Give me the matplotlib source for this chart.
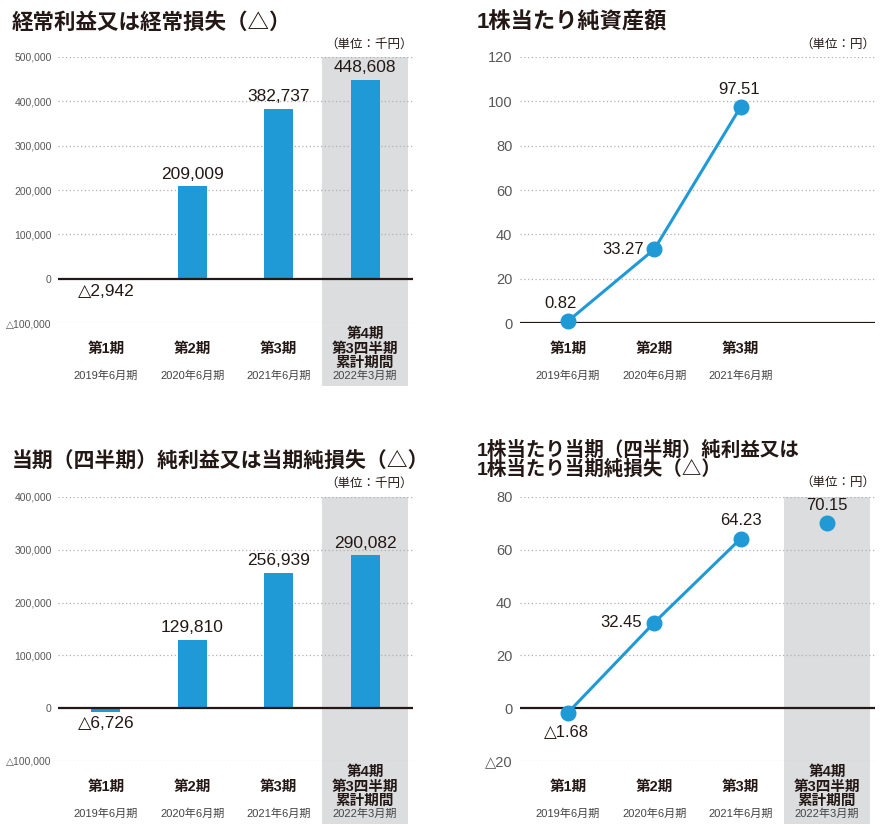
import matplotlib.pyplot as plt

plt.rcParams['font.family'] = ['Liberation Sans', 'DejaVu Sans', 'Noto Sans CJK JP']

# data
cat_names = ['第1期', '第2期', '第3期', '第4期\n第3四半期\n累計期間']
periods = ['2019年6月期', '2020年6月期', '2021年6月期', '2022年3月期']

ordinary_profit = [-2942, 209009, 382737, 448608]      # 千円
net_income = [-6726, 129810, 256939, 290082]           # 千円
bps = [0.82, 33.27, 97.51]                             # 円
eps = [-1.68, 32.45, 64.23, 70.15]                     # 円

op_ticks = [-100000, 0, 100000, 200000, 300000, 400000, 500000]
ni_ticks = [-100000, 0, 100000, 200000, 300000, 400000]
bps_ticks = [0, 20, 40, 60, 80, 100, 120]
eps_ticks = [-20, 0, 20, 40, 60, 80]

W, H = 885, 834
BLUE = '#1f9ad6'
BAND = '#dcdddf'
INK = '#231815'
TITLE_FONT = ['Liberation Sans', 'Noto Sans CJK JP']

fig = plt.figure(figsize=(W / 100, H / 100), dpi=100)


def add_ax(x0, y0, x1, y1):
    return fig.add_axes([x0 / W, 1 - y1 / H, (x1 - x0) / W, (y1 - y0) / H])


def tick_fmt(v):
    if v < 0:
        return '△' + format(-v, ',')
    return format(v, ',')


def val_fmt(v, dec=False):
    s = format(abs(v), '.2f') if dec else format(abs(v), ',')
    return ('△' if v < 0 else '') + s


def setup(ax, ticks, size, pad):
    ax.set_xlim(-0.555, 3.555)
    ax.set_ylim(ticks[0], ticks[-1])
    for s in ax.spines.values():
        s.set_visible(False)
    ax.set_xticks([])
    ax.set_yticks(ticks, [tick_fmt(t) for t in ticks])
    ax.tick_params(axis='y', length=0, pad=pad, labelsize=size, labelcolor='#595757')
    for t in ticks:
        if t == 0:
            ax.axhline(0, color=INK, lw=1.6, zorder=4)
        else:
            ax.axhline(t, color='#b0b0b0', lw=0.9, ls=(0, (1, 2)), zorder=1)


def band(ax, below_px):
    h = ax.get_position().height * H
    ax.axvspan(2.5, 3.5, ymin=-below_px / h, ymax=1, color=BAND, lw=0,
               zorder=0, clip_on=False)


def cat_labels(ax, n):
    for i in range(n):
        lines = cat_names[i].split('\n')
        offs = [-26] if len(lines) == 1 else [-10.5, -25.5, -39.5]
        for line, off in zip(lines, offs):
            ax.annotate(line, xy=(i, 0), xycoords=('data', 'axes fraction'),
                        xytext=(0, off), textcoords='offset pixels',
                        ha='center', va='center', fontsize=10.5, weight='bold',
                        color=INK, zorder=5)
        ax.annotate(periods[i], xy=(i, 0), xycoords=('data', 'axes fraction'),
                    xytext=(0, -53), textcoords='offset pixels',
                    ha='center', va='center', fontsize=8, color='#444444', zorder=5)


def bar_panel(ax, values, ticks):
    setup(ax, ticks, 7.5, 4.5)
    band(ax, 63)
    x = range(len(values))
    ax.bar(x, values, width=0.335, color=BLUE, zorder=2)
    for i, v in enumerate(values):
        off = 12 if v >= 0 else -12
        ax.annotate(val_fmt(v), xy=(i, v), xytext=(0, off), textcoords='offset pixels',
                    ha='center', va='center', fontsize=12.5, color=INK, zorder=5)
    cat_labels(ax, len(values))


def line_panel(ax, values, ticks, offsets, connect, shaded):
    setup(ax, ticks, 10.5, 5.5)
    if shaded:
        band(ax, 63)
    x = list(range(len(values)))
    ax.plot(x[:connect], values[:connect], color=BLUE, lw=2.2, zorder=5, clip_on=False)
    ax.plot(x, values, 'o', color=BLUE, ms=10.5, zorder=6, clip_on=False)
    for i, v in enumerate(values):
        dx, dy, ha = offsets[i]
        ax.annotate(val_fmt(v, True), xy=(i, v), xytext=(dx, dy),
                    textcoords='offset pixels', ha=ha, va='center',
                    fontsize=12, color=INK, zorder=7)
    cat_labels(ax, 4 if shaded else 3)


ax1 = add_ax(58, 57, 413, 323)
bar_panel(ax1, ordinary_profit, op_ticks)

ax2 = add_ax(520, 57, 875, 323)
line_panel(ax2, bps, bps_ticks,
           [(-7, 18, 'center'), (-10, 0, 'right'), (-2, 17, 'center')], 3, False)

ax3 = add_ax(58, 497, 413, 761)
bar_panel(ax3, net_income, ni_ticks)

ax4 = add_ax(520, 497, 875, 761)
line_panel(ax4, eps, eps_ticks,
           [(-1, -20, 'center'), (-12, 0, 'right'), (0, 18, 'center'), (0, 18, 'center')],
           3, True)


def ftext(x, y, s, **kw):
    fig.text(x / W, 1 - y / H, s, color=INK, va='center', **kw)


ftext(12, 23, '経常利益又は経常損失（△）', fontsize=15.5, weight='bold', family=TITLE_FONT)
ftext(477, 23, '1株当たり純資産額', fontsize=16, weight='bold', family=TITLE_FONT)
ftext(12, 462, '当期（四半期）純利益又は当期純損失（△）', fontsize=15, weight='bold',
      family=TITLE_FONT)
ftext(477, 450, '1株当たり当期（四半期）純利益又は', fontsize=14, weight='bold',
      family=TITLE_FONT)
ftext(477, 469, '1株当たり当期純損失（△）', fontsize=14, weight='bold', family=TITLE_FONT)

ftext(413, 45, '（単位：千円）', fontsize=9, ha='right')
ftext(875, 45, '（単位：円）', fontsize=9, ha='right')
ftext(413, 484, '（単位：千円）', fontsize=9, ha='right')
ftext(875, 483, '（単位：円）', fontsize=9, ha='right')

fig.savefig('out.png', dpi=100)
